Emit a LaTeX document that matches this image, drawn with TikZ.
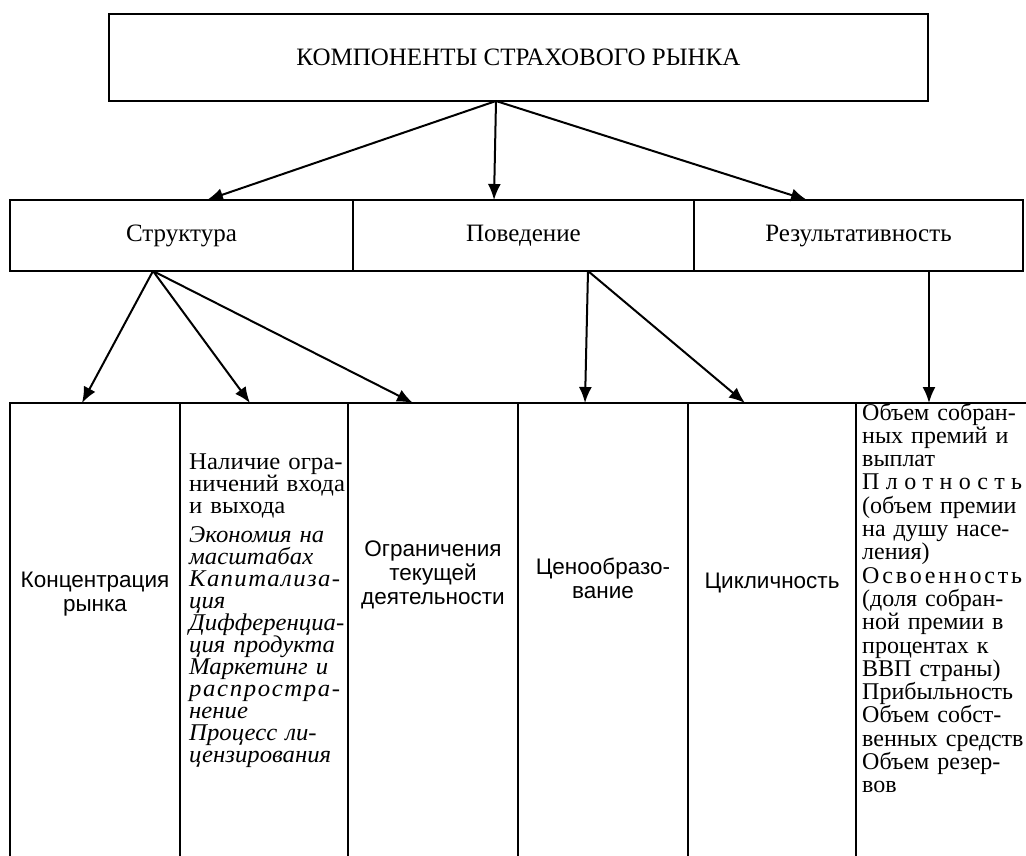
\documentclass[tikz,border=0pt]{standalone}
\usepackage{fontspec}
\setmainfont{Liberation Serif}
\newfontfamily\srf[FakeStretch=1.03]{Liberation Serif}
\newfontfamily\sansf{Liberation Sans}
\usetikzlibrary{arrows.meta}
\ExplSyntaxOn
\NewDocumentCommand\spreadw{m}{\makebox[\linewidth][s]{\tl_map_inline:nn{#1}{##1\hfil}\unskip}}
\ExplSyntaxOff
\newcommand\jline[1]{\makebox[\linewidth][s]{#1}}
\begin{document}
\begin{tikzpicture}[x=1pt,y=-1pt,
  cell/.style={draw,line width=1.6pt,rectangle,inner sep=0pt,outer sep=0pt,anchor=north west},
  arr/.style={line width=2pt,-{Latex[length=16pt,width=13pt]}},
  midtxt/.style={font=\fontsize{25}{28}\selectfont,text height=17pt,text depth=6pt},
  sanst/.style={font=\sansf\fontsize{22.5}{24}\selectfont,align=center,inner sep=0pt,anchor=north},
  coltxt/.style={font=\srf\fontsize{24}{#1}\selectfont,inner sep=0pt,anchor=base west,align=left},
  coltxtb/.style={font=\rmfamily\fontsize{24}{#1}\selectfont,inner sep=0pt,anchor=base west,align=left}]
\useasboundingbox (0,0) rectangle (1026,855);
\clip (0,0) rectangle (1026,855);
% title
\node[cell,line width=2.2pt,minimum width=819pt,minimum height=87pt,font=\fontsize{25}{28}\selectfont] (title) at (109,14) {КОМПОНЕНТЫ СТРАХОВОГО РЫНКА};
% middle row
\node[cell,midtxt,minimum width=343pt,minimum height=71pt] (s1) at (10,200) {Структура};
\node[cell,midtxt,minimum width=341pt,minimum height=71pt] (s2) at (353,200) {Поведение};
\node[cell,midtxt,minimum width=329pt,minimum height=71pt] (s3) at (694,200) {Результативность};
% bottom row
\node[cell,minimum width=170pt,minimum height=470pt] (c1) at (10,403) {};
\node[cell,minimum width=168pt,minimum height=470pt] (c2) at (180,403) {};
\node[cell,minimum width=170pt,minimum height=470pt] (c3) at (348,403) {};
\node[cell,minimum width=170pt,minimum height=470pt] (c4) at (518,403) {};
\node[cell,minimum width=168pt,minimum height=470pt] (c5) at (688,403) {};
\node[cell,minimum width=190pt,minimum height=470pt] (c6) at (856,403) {};
% texts of bottom row
\node[sanst] (t1) at (95,572) {Концентрация\\рынка};
\node[sanst] (t3) at (433,541) {Ограничения\\текущей\\деятельности};
\node[sanst] (t4) at (603,558) {Ценообразо-\\вание};
\node[sanst] (t5) at (772,573) {Цикличность};
\node[coltxt=22,text width=151pt] (t2) at (189,469) {%
\jline{Наличие огра-}\\
\jline{ничений входа}\\
и выхода\\[7pt]
\itshape\jline{Экономия на}\\
масштабах\\
\spreadw{Капитализа-}\\
ция\\
\spreadw{Дифференциа-}\\
\jline{ция продукта}\\
\jline{Маркетинг и}\\
\spreadw{распростра-}\\
нение\\
\jline{Процесс ли-}\\
цензирования};
\node[coltxtb=23.3,text width=160pt] (t6) at (862,420) {%
\jline{Объем собран-}\\
\jline{ных премий и}\\
выплат\\
\spreadw{Плотность}\\
\jline{(объем премии}\\
\jline{на душу насе-}\\
ления)\\
\spreadw{Освоенность}\\
\jline{(доля собран-}\\
\jline{ной премии в}\\
\jline{процентах к}\\
ВВП страны)\\
Прибыльность\\
\jline{Объем собст-}\\
\jline{венных средств}\\
\jline{Объем резер-}\\
вов};
% connector end points
\coordinate (o1) at (title.south -| 496,0);
\coordinate (e1) at (s1.north -| 207,0);
\coordinate (e2) at (s2.north -| 494,0);
\coordinate (e3) at (s3.north -| 807,0);
\coordinate (o2) at (s1.south -| 153,0);
\coordinate (o3) at (s2.south -| 588,0);
\coordinate (o4) at (s3.south -| 929,0);
\coordinate (f1) at (c1.north -| 82,0);
\coordinate (f2) at (c2.north -| 250,0);
\coordinate (f3) at (c3.north -| 413,0);
\coordinate (f4) at (c4.north -| 585,0);
\coordinate (f5) at (c5.north -| 745,0);
\coordinate (f6) at (c6.north -| 929,0);
% connectors
\draw[arr] (o1) -- (e1);
\draw[arr] (o1) -- (e2);
\draw[arr] (o1) -- (e3);
\draw[arr] (o2) -- (f1);
\draw[arr] (o2) -- (f2);
\draw[arr] (o2) -- (f3);
\draw[arr] (o3) -- (f4);
\draw[arr] (o3) -- (f5);
\draw[arr] (o4) -- (f6);
\end{tikzpicture}
\end{document}
